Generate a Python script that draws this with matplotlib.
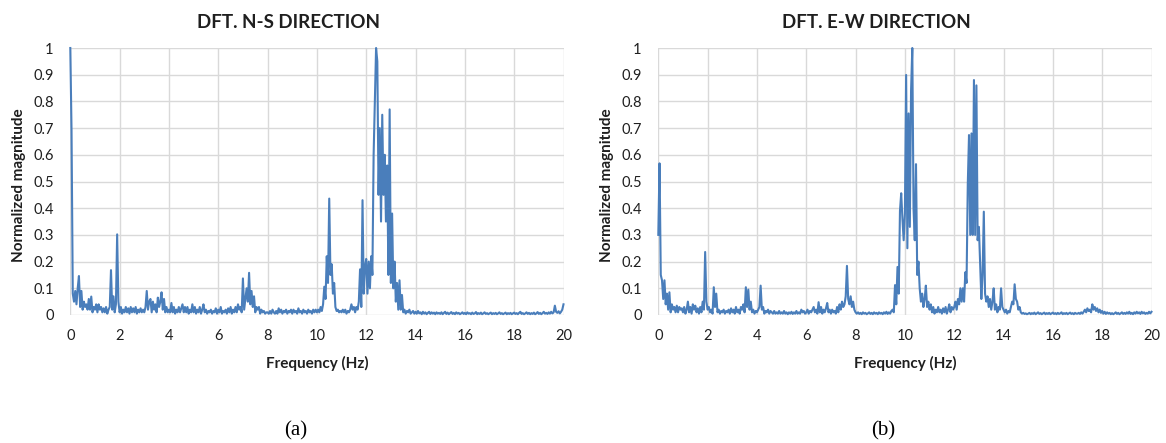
import numpy as np
import matplotlib.pyplot as plt

# DFT frequency bins (Hz) shared by both directions
freq = np.round(np.arange(0, 20.001, 0.05), 2)

# normalized magnitude, N-S direction (one row per Hz)
ns_mag = [
    1.0, 0.69, 0.08, 0.05, 0.09, 0.04, 0.10, 0.146, 0.03, 0.09, 0.02, 0.05, 0.03, 0.04, 0.02, 0.06, 0.02, 0.069, 0.01, 0.03,
    0.02, 0.04, 0.01, 0.04, 0.02, 0.03, 0.01, 0.025, 0.01, 0.03, 0.005, 0.02, 0.03, 0.168, 0.02, 0.07, 0.01, 0.04, 0.302, 0.05,
    0.01, 0.03, 0.005, 0.02, 0.01, 0.03, 0.01, 0.025, 0.005, 0.03, 0.01, 0.025, 0.01, 0.03, 0.005, 0.02, 0.01, 0.025, 0.01, 0.02,
    0.01, 0.03, 0.09, 0.02, 0.05, 0.06, 0.01, 0.05, 0.02, 0.04, 0.01, 0.065, 0.03, 0.05, 0.085, 0.02, 0.06, 0.01, 0.03, 0.01,
    0.02, 0.01, 0.045, 0.01, 0.03, 0.005, 0.02, 0.01, 0.03, 0.01, 0.025, 0.04, 0.01, 0.03, 0.01, 0.03, 0.005, 0.02, 0.01, 0.04,
    0.01, 0.03, 0.005, 0.02, 0.01, 0.03, 0.005, 0.02, 0.04, 0.01, 0.02, 0.005, 0.015, 0.01, 0.02, 0.005, 0.015, 0.01, 0.025, 0.005,
    0.02, 0.01, 0.03, 0.005, 0.015, 0.01, 0.02, 0.005, 0.025, 0.01, 0.03, 0.005, 0.02, 0.01, 0.03, 0.01, 0.04, 0.02, 0.03, 0.01,
    0.137, 0.02, 0.06, 0.10, 0.05, 0.158, 0.04, 0.09, 0.03, 0.07, 0.01, 0.03, 0.02, 0.03, 0.005, 0.02, 0.01, 0.015, 0.005, 0.01,
    0.01, 0.005, 0.015, 0.005, 0.02, 0.01, 0.005, 0.015, 0.005, 0.025, 0.01, 0.02, 0.005, 0.015, 0.01, 0.02, 0.005, 0.015, 0.01, 0.02,
    0.005, 0.02, 0.01, 0.015, 0.005, 0.025, 0.01, 0.015, 0.005, 0.02, 0.01, 0.015, 0.005, 0.02, 0.01, 0.015, 0.005, 0.02, 0.01, 0.02,
    0.01, 0.02, 0.01, 0.03, 0.015, 0.04, 0.106, 0.06, 0.22, 0.12, 0.436, 0.15, 0.19, 0.08, 0.12, 0.03, 0.015, 0.02, 0.01, 0.015,
    0.01, 0.02, 0.01, 0.02, 0.005, 0.015, 0.01, 0.02, 0.04, 0.02, 0.03, 0.01, 0.03, 0.02, 0.05, 0.171, 0.03, 0.43, 0.08, 0.18,
    0.21, 0.08, 0.20, 0.10, 0.22, 0.15, 0.60, 0.80, 1.0, 0.95, 0.45, 0.70, 0.35, 0.75, 0.45, 0.60, 0.35, 0.56, 0.15, 0.77,
    0.12, 0.38, 0.10, 0.20, 0.05, 0.12, 0.02, 0.13, 0.02, 0.075, 0.01, 0.02, 0.005, 0.015, 0.01, 0.02, 0.005, 0.01, 0.015, 0.005,
    0.012, 0.005, 0.015, 0.006, 0.01, 0.003, 0.012, 0.005, 0.01, 0.003, 0.008, 0.012, 0.004, 0.01, 0.005, 0.009, 0.003, 0.01, 0.005, 0.008,
    0.004, 0.01, 0.003, 0.008, 0.012, 0.004, 0.009, 0.003, 0.007, 0.011, 0.004, 0.008, 0.003, 0.01, 0.005, 0.008, 0.003, 0.006, 0.01, 0.004,
    0.008, 0.003, 0.01, 0.005, 0.007, 0.003, 0.009, 0.004, 0.006, 0.011, 0.003, 0.007, 0.004, 0.009, 0.003, 0.006, 0.01, 0.004, 0.007, 0.003,
    0.006, 0.009, 0.003, 0.007, 0.004, 0.008, 0.003, 0.006, 0.01, 0.004, 0.007, 0.003, 0.006, 0.009, 0.003, 0.007, 0.004, 0.008, 0.003, 0.006,
    0.009, 0.004, 0.007, 0.003, 0.008, 0.012, 0.004, 0.007, 0.003, 0.006, 0.01, 0.004, 0.008, 0.003, 0.007, 0.004, 0.009, 0.003, 0.006, 0.011,
    0.004, 0.008, 0.003, 0.007, 0.012, 0.005, 0.008, 0.004, 0.01, 0.005, 0.012, 0.006, 0.01, 0.035, 0.012, 0.008, 0.014, 0.006, 0.012, 0.02,
    0.04,
]

# normalized magnitude, E-W direction
ew_mag = [
    0.30, 0.568, 0.15, 0.13, 0.06, 0.13, 0.04, 0.08, 0.02, 0.085, 0.01, 0.04, 0.02, 0.03, 0.01, 0.035, 0.01, 0.03, 0.02, 0.025,
    0.01, 0.03, 0.005, 0.02, 0.05, 0.01, 0.03, 0.005, 0.04, 0.02, 0.035, 0.01, 0.025, 0.005, 0.03, 0.01, 0.05, 0.02, 0.236, 0.05,
    0.02, 0.03, 0.01, 0.02, 0.005, 0.104, 0.03, 0.08, 0.01, 0.02, 0.005, 0.015, 0.01, 0.02, 0.005, 0.015, 0.01, 0.02, 0.005, 0.025,
    0.01, 0.02, 0.005, 0.03, 0.01, 0.02, 0.005, 0.03, 0.02, 0.04, 0.01, 0.104, 0.03, 0.095, 0.02, 0.05, 0.01, 0.02, 0.005, 0.015,
    0.01, 0.02, 0.03, 0.11, 0.02, 0.03, 0.005, 0.015, 0.01, 0.02, 0.005, 0.015, 0.01, 0.005, 0.015, 0.005, 0.01, 0.005, 0.015, 0.005,
    0.01, 0.005, 0.015, 0.005, 0.01, 0.003, 0.01, 0.005, 0.012, 0.004, 0.01, 0.005, 0.015, 0.005, 0.01, 0.005, 0.02, 0.01, 0.015, 0.005,
    0.01, 0.02, 0.005, 0.015, 0.01, 0.02, 0.03, 0.01, 0.02, 0.005, 0.048, 0.01, 0.03, 0.005, 0.02, 0.01, 0.025, 0.045, 0.01, 0.02,
    0.005, 0.02, 0.01, 0.015, 0.005, 0.03, 0.01, 0.04, 0.02, 0.05, 0.03, 0.04, 0.07, 0.184, 0.06, 0.04, 0.07, 0.03, 0.05, 0.02,
    0.01, 0.005, 0.01, 0.004, 0.008, 0.003, 0.01, 0.005, 0.008, 0.003, 0.006, 0.01, 0.004, 0.008, 0.003, 0.01, 0.005, 0.008, 0.003, 0.01,
    0.005, 0.008, 0.003, 0.01, 0.005, 0.012, 0.004, 0.01, 0.005, 0.015, 0.02, 0.01, 0.112, 0.04, 0.18, 0.08, 0.39, 0.456, 0.36, 0.28,
    0.38, 0.899, 0.25, 0.755, 0.33, 0.84, 1.0, 0.40, 0.28, 0.565, 0.15, 0.20, 0.10, 0.05, 0.08, 0.03, 0.06, 0.11, 0.03, 0.05,
    0.02, 0.04, 0.01, 0.03, 0.005, 0.02, 0.01, 0.03, 0.01, 0.02, 0.005, 0.025, 0.01, 0.03, 0.005, 0.02, 0.04, 0.01, 0.03, 0.02,
    0.03, 0.05, 0.02, 0.06, 0.04, 0.10, 0.05, 0.10, 0.05, 0.16, 0.12, 0.49, 0.674, 0.30, 0.68, 0.30, 0.88, 0.30, 0.86, 0.28,
    0.33, 0.20, 0.06, 0.15, 0.387, 0.08, 0.05, 0.07, 0.03, 0.06, 0.02, 0.05, 0.10, 0.02, 0.04, 0.01, 0.03, 0.02, 0.10, 0.03,
    0.02, 0.01, 0.02, 0.005, 0.015, 0.01, 0.03, 0.05, 0.04, 0.115, 0.06, 0.05, 0.02, 0.03, 0.01, 0.005, 0.008, 0.004, 0.006, 0.003,
    0.005, 0.008, 0.003, 0.007, 0.004, 0.009, 0.003, 0.006, 0.01, 0.004, 0.007, 0.003, 0.006, 0.009, 0.003, 0.007, 0.004, 0.008, 0.003, 0.006,
    0.009, 0.004, 0.007, 0.003, 0.008, 0.004, 0.006, 0.01, 0.003, 0.007, 0.004, 0.008, 0.003, 0.006, 0.009, 0.004, 0.007, 0.003, 0.008, 0.005,
    0.005, 0.008, 0.004, 0.01, 0.005, 0.012, 0.02, 0.01, 0.025, 0.015, 0.02, 0.01, 0.04, 0.02, 0.03, 0.015, 0.025, 0.01, 0.02, 0.008,
    0.015, 0.005, 0.012, 0.004, 0.01, 0.005, 0.008, 0.003, 0.007, 0.003, 0.006, 0.01, 0.004, 0.008, 0.003, 0.006, 0.01, 0.004, 0.008, 0.004,
    0.01, 0.005, 0.012, 0.004, 0.008, 0.003, 0.01, 0.005, 0.012, 0.006, 0.01, 0.004, 0.012, 0.006, 0.01, 0.004, 0.008, 0.005, 0.012, 0.006,
    0.012,
]

x_ticks = list(range(0, 21, 2))
y_ticks = [0, 0.1, 0.2, 0.3, 0.4, 0.5, 0.6, 0.7, 0.8, 0.9, 1]
y_labels = ['0', '0.1', '0.2', '0.3', '0.4', '0.5', '0.6', '0.7', '0.8', '0.9', '1']

LINE = '#4a7ebb'
GRID = '#d9d9d9'
TEXT = '#1f1f1f'

plt.rcParams['font.family'] = ['Lato', 'DejaVu Sans']

W, H = 1166, 443
fig = plt.figure(figsize=(W / 100, H / 100), dpi=100)


def draw_panel(left_px, mag, title, caption):
    ax = fig.add_axes([left_px / W, 1 - 315 / H, 493.2 / W, 267 / H])
    ax.plot(freq, mag, color=LINE, lw=1.5, clip_on=False, zorder=3)
    ax.set_xlim(0, 20)
    ax.set_ylim(0, 1)
    ax.set_xticks(x_ticks)
    ax.set_yticks(y_ticks)
    ax.set_yticklabels(y_labels)
    ax.set_axisbelow(True)
    ax.grid(True, color=GRID, lw=1)
    for s in ax.spines.values():
        s.set_visible(False)
    ax.tick_params(axis='y', length=0, labelsize=10.5, colors=TEXT, pad=12)
    ax.tick_params(axis='x', length=0, labelsize=10.5, colors=TEXT, pad=10)

    cx = left_px + 246.6
    fig.text((left_px - 51.6 + 270) / W, 1 - 23 / H, title, ha='center', va='center',
             fontsize=13.5, fontweight='bold', color=TEXT)
    fig.text(cx / W, 1 - 363 / H, 'Frequency (Hz)', ha='center', va='center',
             fontsize=11, fontweight='bold', color=TEXT)
    fig.text((left_px - 51.6) / W, 1 - 185 / H, 'Normalized magnitude', ha='center', va='center',
             rotation=90, fontsize=11, fontweight='bold', color=TEXT)
    fig.text((left_px + 225) / W, 1 - 431 / H, caption, ha='center', va='center',
             fontsize=15, family='Liberation Serif', color='black')
    return ax


draw_panel(70.3, ns_mag, 'DFT. N-S DIRECTION', '(a)')
draw_panel(658.3, ew_mag, 'DFT. E-W DIRECTION', '(b)')

fig.savefig('out.png', dpi=100)
